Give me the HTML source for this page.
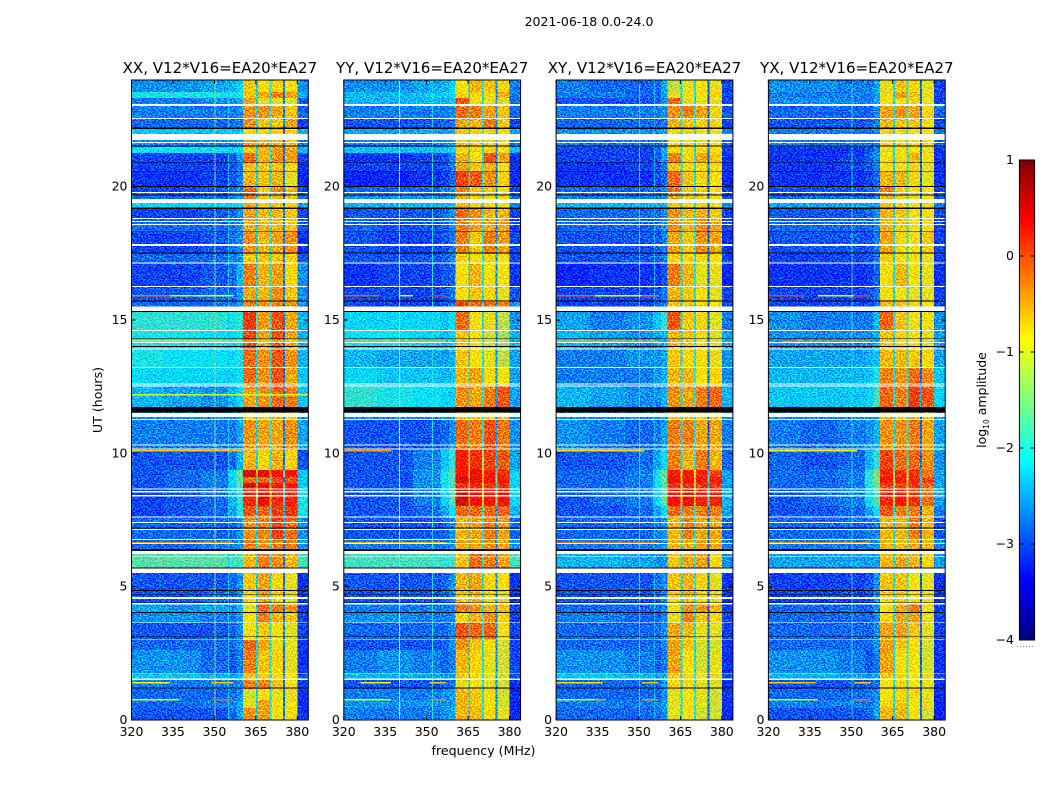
<!DOCTYPE html>
<html lang="en">
<head>
<meta charset="utf-8">
<title>2021-06-18 amplitude waterfall</title>
<style>
html,body{margin:0;padding:0;background:#fff;width:1050px;height:800px;overflow:hidden}
svg{display:block}
text{font-family:"DejaVu Sans","Liberation Sans",sans-serif;fill:#000}
</style>
</head>
<body>
<svg id="figure" xmlns="http://www.w3.org/2000/svg" width="1050" height="800" viewBox="0 0 1050 800">
  <defs>
    <linearGradient id="jet-gradient" x1="0" y1="0" x2="0" y2="1"></linearGradient>
    <filter id="speckle" x="0" y="0" width="100%" height="100%" color-interpolation-filters="sRGB">
      <feTurbulence type="fractalNoise" baseFrequency="0.62 0.78" numOctaves="1" seed="7" result="noise"/>
      <feColorMatrix in="noise" type="matrix" values="0 0 0 0 0.5  4 0 0 0 -1.6  0 0 0 0 0.5  0 0 0 0 1" result="greenNoise"/>
      <feComposite in="SourceGraphic" in2="greenNoise" operator="arithmetic" k1="0" k2="1" k3="0.7" k4="-0.35"/>
    </filter>
  </defs>
  <text x="589" y="26" font-size="12.5" text-anchor="middle">2021-06-18 0.0-24.0</text>
  <text x="483.5" y="755" font-size="12.6" text-anchor="middle">frequency (MHz)</text>
  <text transform="translate(102,400) rotate(-90)" font-size="12.6" text-anchor="middle">UT (hours)</text>
  <text transform="translate(986,400) rotate(-90)" font-size="12.5" text-anchor="middle">log<tspan font-size="7.5" dy="3">10</tspan><tspan dy="-3"> amplitude</tspan></text>
  <g id="panels"></g>
  <g id="colorbar"></g>
</svg>
<script>
// Time bands (UT hours, top to bottom) and frequency groups (MHz).
var hourEdges = [24,23.55,23.33,23.03,22.54,22.16,21.75,21.49,21.26,20.89,20.55,19.99,19.76,19.39,19.16,18.79,18.30,17.48,17.10,16.24,15.68,15.30,14.59,13.91,13.20,12.53,11.55,11.29,10.13,9.38,9.11,8.89,8.63,8.03,7.58,6.75,6.34,5.51,4.84,4.35,4.01,3.64,3.00,2.63,1.73,1.50,1.16,0.75,0.45,0];
var channelEdges = [320,332,345,355,358,360.4,365.05,365.75,370,370.7,374.85,375.55,380,384];
// Which frequency group uses which level column (-1..-3 = gap channel).
var channelColumns = [0,1,2,3,4,5,-1,6,-2,7,-3,8,9];

var panelTitles = ["XX, V12*V16=EA20*EA27","YY, V12*V16=EA20*EA27","XY, V12*V16=EA20*EA27","YX, V12*V16=EA20*EA27"];
var freqTicks = [320,335,350,365,380];
var hourTicks = [0,5,10,15,20];
var colorTicks = [1,0,-1,-2,-3,-4];

// log10 amplitude per time band: 320-332, 332-345, 345-355, 355-358, 358-360, block A, B, C, D, 380-384
var xxLevels = [
[-2.6,-2.6,-2.5,-2.4,-2.2,-0.7,-0.9,-0.8,-0.9,-2.6],
[-2.0,-2.0,-2.0,-2.0,-2.0,-0.7,-0.5,-0.3,-0.5,-2.4],
[-2.7,-2.7,-2.6,-2.6,-2.4,-0.5,-1.0,-1.0,-1.0,-2.9],
[-2.7,-2.7,-2.7,-2.7,-2.6,-0.4,-0.4,-0.5,-0.7,-2.8],
[-2.8,-2.8,-2.8,-2.8,-2.7,-0.4,-0.7,-0.7,-0.5,-3.0],
[-2.3,-2.3,-2.3,-2.3,-2.3,-0.8,-0.8,-0.8,-0.8,-2.4],
[-2.6,-2.6,-2.6,-2.6,-2.5,-0.5,-0.5,-0.6,-0.7,-2.7],
[-2.1,-2.1,-2.1,-2.2,-2.1,-0.7,-0.6,-0.5,-0.5,-2.4],
[-3.0,-3.0,-3.0,-2.9,-2.5,-0.2,-0.6,-0.4,-0.5,-3.0],
[-3.0,-3.0,-3.0,-2.9,-2.7,-0.7,-0.7,-0.7,-0.8,-3.1],
[-3.1,-3.1,-3.0,-2.9,-2.7,-0.6,-0.7,-0.6,-1.0,-3.2],
[-3.0,-3.0,-2.9,-2.8,-2.6,-0.2,-0.7,-0.4,-0.6,-3.0],
[-2.8,-2.8,-2.8,-2.7,-2.5,-0.3,-0.7,-0.6,-0.7,-2.8],
[-2.2,-2.2,-2.2,-2.2,-2.2,-0.5,-0.7,-0.7,-0.8,-2.5],
[-3.0,-3.0,-2.9,-2.8,-2.6,-0.5,-0.6,-0.6,-0.7,-3.0],
[-2.8,-2.8,-2.8,-2.7,-2.6,-0.5,-0.6,-0.6,-0.7,-2.9],
[-3.0,-3.0,-2.9,-2.8,-2.6,-0.4,-0.6,-0.5,-0.4,-3.1],
[-2.8,-2.8,-2.8,-2.7,-2.6,-0.7,-0.7,-0.7,-0.8,-2.9],
[-3.0,-3.0,-2.9,-2.8,-2.4,-0.3,-0.6,-0.5,-0.8,-2.6],
[-2.9,-2.9,-2.8,-2.8,-2.5,-0.5,-0.6,-0.4,-0.7,-2.6],
[-2.8,-2.8,-2.8,-2.7,-2.5,-0.3,-0.4,-0.3,-0.4,-2.6],
[-1.9,-1.9,-1.9,-2.0,-1.9,0.05,-0.45,-0.1,-0.5,-2.4],
[-2.0,-2.0,-2.1,-2.2,-2.0,0.0,-0.5,-0.1,-0.5,-2.4],
[-2.0,-2.1,-2.1,-2.1,-2.0,-0.2,-0.4,-0.1,-0.4,-2.4],
[-2.2,-2.2,-2.2,-2.2,-2.1,-0.2,-0.4,-0.1,-0.5,-2.3],
[-2.4,-2.5,-2.6,-2.4,-2.1,-0.5,-0.4,-0.2,-0.3,-2.3],
[-2.6,-2.6,-2.6,-2.6,-2.5,-0.7,-0.7,-0.6,-0.7,-2.6],
[-2.7,-2.7,-2.7,-2.7,-2.5,-0.4,-0.5,-0.5,-0.4,-2.5],
[-2.9,-2.9,-2.9,-2.8,-2.4,-0.6,-0.8,-0.6,-0.8,-2.9],
[-2.9,-2.8,-2.7,-2.1,-1.6,0.6,0.55,0.4,0.35,-2.3],
[-2.9,-2.8,-2.7,-2.2,-1.7,-0.2,-0.2,-0.1,-0.1,-2.3],
[-2.9,-2.8,-2.7,-2.2,-1.7,0.6,0.5,0.35,0.3,-2.3],
[-3.0,-2.9,-2.8,-2.4,-1.9,0.2,0.5,0.2,0.25,-2.0],
[-3.0,-2.9,-2.8,-2.5,-2.0,-0.1,-0.2,0.0,0.1,-2.0],
[-2.8,-2.8,-2.8,-2.8,-2.6,-0.4,-0.3,0.0,-0.2,-2.6],
[-2.8,-2.8,-2.7,-2.7,-2.6,-0.3,-0.4,-0.3,-0.3,-2.6],
[-1.7,-1.7,-1.7,-1.8,-1.8,-0.6,-0.3,-0.4,-0.6,-1.8],
[-2.9,-2.9,-2.9,-2.8,-2.6,-0.7,-0.5,-0.8,-1.0,-3.1],
[-2.9,-2.9,-2.8,-2.8,-2.6,-0.8,-0.5,-0.8,-1.0,-3.1],
[-2.5,-2.6,-2.5,-2.6,-2.4,-1.0,-0.2,-0.3,-0.4,-3.0],
[-2.6,-2.6,-2.7,-2.7,-2.5,-0.9,-0.3,-0.6,-0.7,-3.0],
[-2.9,-2.9,-2.9,-2.8,-2.6,-0.9,-0.7,-0.9,-1.0,-3.0],
[-2.8,-2.8,-2.8,-2.8,-2.6,-0.2,-0.5,-1.0,-1.0,-3.1],
[-2.6,-2.6,-2.8,-2.9,-2.7,-0.3,-0.7,-0.8,-1.0,-3.1],
[-2.3,-2.3,-2.4,-2.5,-2.4,-0.7,-0.7,-0.8,-0.9,-2.9],
[-2.7,-2.7,-2.7,-2.7,-2.6,-0.3,-0.3,-0.7,-0.9,-3.0],
[-2.8,-2.8,-2.8,-2.8,-2.6,-1.1,-0.9,-1.0,-1.0,-3.1],
[-2.8,-2.8,-2.7,-2.6,-2.5,-1.0,-0.5,-0.9,-0.9,-3.1],
[-2.9,-2.9,-2.9,-2.8,-2.5,-0.4,-0.45,-0.9,-0.9,-3.1]
];
var yyLevels = [
[-2.6,-2.6,-2.5,-2.4,-2.2,-0.9,-0.6,-0.7,-0.8,-2.7],
[-2.4,-2.4,-2.3,-2.3,-2.1,-0.8,-0.8,-0.9,-0.6,-2.7],
[-2.4,-2.4,-2.4,-2.4,-2.3,-0.1,-0.9,-1.0,-1.0,-2.8],
[-2.7,-2.7,-2.7,-2.7,-2.6,-0.2,-0.3,-0.5,-0.7,-2.8],
[-2.9,-2.9,-2.9,-2.8,-2.7,-0.5,-0.6,-0.3,-0.7,-3.0],
[-2.5,-2.5,-2.5,-2.5,-2.4,-0.7,-0.8,-0.8,-0.8,-2.5],
[-2.7,-2.7,-2.7,-2.6,-2.5,-0.7,-0.8,-0.8,-0.9,-2.7],
[-2.3,-2.3,-2.3,-2.3,-2.2,-0.8,-0.8,-0.8,-0.9,-2.4],
[-3.1,-3.1,-3.0,-2.9,-2.6,-0.6,-0.9,-0.1,-0.5,-3.1],
[-3.0,-3.0,-3.0,-2.9,-2.7,-0.5,-0.7,-0.6,-0.9,-3.1],
[-3.2,-3.2,-3.1,-3.0,-2.8,0.0,-0.1,-0.4,-0.8,-3.2],
[-2.8,-2.8,-2.8,-2.7,-2.6,-0.3,-0.7,-0.7,-0.9,-3.0],
[-2.6,-2.6,-2.6,-2.6,-2.5,-0.6,-0.8,-0.9,-0.9,-2.8],
[-2.4,-2.4,-2.4,-2.4,-2.3,-0.7,-0.8,-0.9,-0.9,-2.6],
[-2.9,-2.9,-2.9,-2.8,-2.6,-0.2,-0.4,-0.6,-0.6,-3.0],
[-2.8,-2.9,-2.9,-2.8,-2.6,-0.3,-0.5,-0.5,-0.5,-3.0],
[-2.9,-3.0,-3.0,-2.9,-2.7,-0.3,-0.7,-0.3,-0.5,-3.0],
[-2.9,-2.9,-2.9,-2.8,-2.7,-0.8,-0.9,-0.8,-0.9,-3.0],
[-3.1,-3.0,-3.0,-2.9,-2.8,-0.9,-0.6,-0.9,-0.9,-3.1],
[-3.0,-3.0,-3.0,-2.9,-2.7,-0.9,-0.7,-0.8,-1.0,-2.9],
[-3.0,-3.0,-3.0,-2.9,-2.7,0.0,-0.2,-0.2,-0.3,-2.6],
[-2.2,-2.2,-2.2,-2.3,-2.1,-0.2,-0.9,-1.0,-1.2,-2.6],
[-2.1,-2.1,-2.2,-2.3,-2.2,-0.7,-0.9,-1.1,-1.3,-2.4],
[-2.4,-2.5,-2.5,-2.5,-2.4,-0.7,-0.9,-1.0,-1.2,-2.5],
[-2.2,-2.3,-2.3,-2.4,-2.3,-0.6,-0.5,-0.8,-0.9,-2.5],
[-1.9,-2.0,-2.1,-2.2,-2.2,-0.4,-0.5,-0.3,-0.1,-2.5],
[-2.6,-2.6,-2.6,-2.6,-2.5,-0.7,-0.7,-0.7,-0.7,-2.6],
[-2.9,-2.9,-2.9,-2.8,-2.6,-0.2,-0.3,-0.1,-0.3,-2.6],
[-2.9,-2.9,-2.7,-2.3,-1.9,0.3,0.15,0.0,-0.1,-2.5],
[-2.9,-2.9,-2.6,-2.0,-1.7,0.3,0.45,0.3,0.15,-2.2],
[-2.9,-2.9,-2.6,-2.0,-1.7,0.55,0.5,0.35,0.3,-2.2],
[-2.9,-2.9,-2.6,-2.1,-1.7,0.1,0.2,0.1,0.1,-2.2],
[-2.9,-2.9,-2.7,-2.2,-1.7,0.6,0.45,0.35,0.4,-2.2],
[-2.9,-2.9,-2.8,-2.5,-2.1,-0.2,-0.2,-0.2,-0.2,-2.4],
[-2.9,-2.9,-2.9,-2.8,-2.6,-0.6,-0.5,-0.3,-0.5,-2.8],
[-2.7,-2.7,-2.7,-2.7,-2.6,-0.5,-0.5,-0.4,-0.5,-2.6],
[-1.8,-1.8,-1.8,-1.9,-1.8,-0.7,-0.2,-0.3,-0.5,-1.8],
[-2.9,-2.9,-2.9,-2.8,-2.6,-0.6,-0.5,-0.8,-0.9,-3.1],
[-2.9,-2.9,-2.9,-2.8,-2.6,-0.7,-0.6,-0.8,-1.0,-3.1],
[-2.7,-2.7,-2.7,-2.7,-2.6,-0.3,-0.4,-0.6,-0.7,-3.0],
[-2.6,-2.6,-2.7,-2.7,-2.6,-0.8,-0.6,-0.4,-0.8,-3.0],
[-2.8,-2.8,-2.8,-2.8,-2.6,-0.1,-0.2,-0.2,-0.9,-3.0],
[-2.9,-2.9,-2.9,-2.8,-2.6,-0.4,-0.7,-0.9,-1.1,-3.0],
[-2.7,-2.6,-2.7,-2.8,-2.7,-0.6,-0.8,-1.0,-1.1,-3.0],
[-2.4,-2.4,-2.5,-2.6,-2.5,-0.7,-0.8,-1.0,-1.1,-2.9],
[-2.9,-2.9,-2.9,-2.8,-2.7,-1.0,-0.9,-1.0,-1.1,-3.1],
[-2.7,-2.7,-2.7,-2.6,-2.5,-0.6,-0.7,-0.9,-1.1,-3.2],
[-2.6,-2.6,-2.6,-2.6,-2.5,-0.6,-0.7,-0.9,-1.1,-3.2],
[-2.7,-2.7,-2.7,-2.6,-2.5,-0.6,-0.6,-0.8,-1.0,-3.2]
];
var xyLevels = [
[-2.7,-2.8,-2.8,-2.8,-2.5,-1.2,-1.0,-0.9,-1.0,-3.0],
[-2.7,-2.7,-2.8,-2.8,-2.5,-1.0,-0.9,-0.9,-0.8,-3.0],
[-2.9,-2.9,-2.9,-2.8,-2.6,-0.2,-1.0,-1.0,-1.0,-3.0],
[-2.7,-2.7,-2.7,-2.7,-2.6,-0.4,-0.3,-0.5,-0.8,-2.9],
[-2.8,-2.8,-2.8,-2.8,-2.7,-0.6,-0.7,-0.8,-0.8,-3.0],
[-2.6,-2.6,-2.6,-2.6,-2.5,-0.8,-0.8,-0.9,-0.9,-2.7],
[-2.7,-2.7,-2.7,-2.7,-2.6,-0.8,-0.8,-0.8,-0.9,-2.8],
[-3.0,-3.0,-3.0,-2.8,-2.5,-0.8,-0.9,-0.9,-0.9,-3.0],
[-3.0,-3.0,-3.0,-2.9,-2.5,-0.3,-0.8,-0.5,-0.7,-3.1],
[-3.1,-3.1,-3.0,-2.9,-2.7,-0.7,-0.8,-0.8,-0.9,-3.1],
[-3.1,-3.1,-3.1,-3.0,-2.8,-0.2,-0.7,-0.8,-0.9,-3.2],
[-2.8,-2.8,-2.8,-2.8,-2.6,-0.2,-0.7,-0.7,-0.9,-3.0],
[-2.7,-2.7,-2.7,-2.7,-2.6,-0.5,-0.7,-0.8,-0.9,-2.9],
[-2.4,-2.4,-2.4,-2.4,-2.4,-0.7,-0.8,-0.8,-0.9,-2.6],
[-2.8,-2.8,-2.8,-2.8,-2.6,-0.4,-0.6,-0.6,-0.7,-3.0],
[-2.8,-2.8,-2.8,-2.8,-2.6,-0.4,-0.6,-0.4,-0.5,-3.0],
[-2.9,-2.9,-2.9,-2.9,-2.7,-0.5,-0.7,-0.4,-0.5,-3.1],
[-2.9,-2.9,-2.9,-2.9,-2.7,-0.8,-0.8,-0.8,-0.9,-3.0],
[-3.2,-3.1,-3.1,-3.1,-2.9,-0.3,-0.6,-1.0,-1.0,-3.2],
[-3.0,-3.0,-3.0,-2.9,-2.7,-0.6,-0.7,-0.9,-1.0,-3.0],
[-3.0,-3.0,-3.0,-2.9,-2.7,-0.7,-0.7,-0.8,-0.9,-2.9],
[-2.5,-2.7,-2.6,-2.3,-1.9,-0.1,-0.7,-0.8,-1.0,-2.7],
[-2.4,-2.5,-2.6,-2.5,-2.4,-0.6,-0.7,-0.9,-1.0,-2.5],
[-2.7,-2.7,-2.6,-2.6,-2.5,-0.7,-0.8,-0.9,-1.0,-2.6],
[-2.7,-2.7,-2.7,-2.6,-2.4,-0.6,-0.6,-0.9,-0.8,-2.6],
[-2.4,-2.5,-2.6,-2.6,-2.4,-0.4,-0.5,-0.3,-0.2,-2.4],
[-2.6,-2.6,-2.6,-2.6,-2.5,-0.7,-0.7,-0.7,-0.7,-2.6],
[-2.6,-2.7,-2.8,-2.7,-2.5,-0.3,-0.3,-0.5,-0.5,-2.7],
[-2.9,-2.9,-2.8,-2.5,-2.1,-0.3,-0.6,-0.3,-0.6,-2.8],
[-2.8,-2.8,-2.7,-2.0,-1.6,0.3,0.3,0.2,0.0,-2.5],
[-2.8,-2.8,-2.7,-2.0,-1.6,0.45,0.4,0.3,0.3,-2.5],
[-2.8,-2.8,-2.7,-2.1,-1.7,0.1,0.1,0.05,0.05,-2.5],
[-2.9,-2.8,-2.7,-2.1,-1.6,0.4,0.5,0.3,0.3,-2.4],
[-2.9,-2.9,-2.8,-2.5,-2.1,-0.2,-0.3,-0.3,-0.3,-2.5],
[-2.8,-2.8,-2.8,-2.7,-2.6,-0.6,-0.3,-0.5,-0.5,-2.8],
[-2.7,-2.7,-2.7,-2.7,-2.6,-0.6,-0.5,-0.5,-0.5,-2.7],
[-2.4,-2.4,-2.5,-2.6,-2.6,-0.7,-0.5,-0.5,-0.8,-2.6],
[-2.9,-2.9,-2.9,-2.8,-2.6,-0.7,-0.6,-0.8,-1.0,-3.1],
[-2.9,-2.9,-2.9,-2.8,-2.6,-0.8,-0.6,-0.8,-1.0,-3.1],
[-2.8,-2.8,-2.8,-2.8,-2.6,-0.9,-0.4,-0.4,-0.6,-3.0],
[-2.7,-2.7,-2.8,-2.8,-2.6,-1.0,-0.3,-0.7,-0.8,-3.0],
[-2.8,-2.8,-2.8,-2.8,-2.6,-0.5,-0.6,-1.0,-1.0,-3.0],
[-2.8,-2.8,-2.8,-2.8,-2.6,-0.5,-0.7,-1.1,-1.1,-3.1],
[-2.6,-2.6,-2.7,-2.9,-2.7,-0.5,-0.9,-1.1,-1.0,-3.1],
[-2.3,-2.3,-2.4,-2.5,-2.5,-0.7,-0.8,-1.0,-1.0,-3.0],
[-2.8,-2.8,-2.8,-2.8,-2.6,-0.8,-0.8,-1.0,-1.0,-3.1],
[-2.8,-2.8,-2.8,-2.8,-2.6,-1.0,-0.9,-1.0,-1.1,-3.1],
[-2.7,-2.7,-2.7,-2.7,-2.5,-1.0,-0.9,-1.0,-1.1,-3.1],
[-2.8,-2.8,-2.8,-2.8,-2.6,-1.0,-0.9,-1.1,-1.1,-3.2]
];
var yxLevels = [
[-2.6,-2.6,-2.7,-2.7,-2.5,-1.0,-0.7,-0.8,-1.0,-3.0],
[-2.7,-2.7,-2.7,-2.7,-2.5,-1.0,-0.5,-0.7,-1.0,-3.0],
[-2.6,-2.6,-2.7,-2.7,-2.5,-0.9,-0.9,-0.8,-1.0,-3.0],
[-2.8,-2.8,-2.8,-2.8,-2.6,-0.5,-0.4,-0.5,-0.8,-2.8],
[-2.9,-2.9,-2.9,-2.8,-2.7,-0.6,-0.7,-0.7,-0.9,-3.0],
[-2.7,-2.7,-2.7,-2.7,-2.6,-0.8,-0.8,-0.9,-0.9,-2.8],
[-2.7,-2.7,-2.7,-2.7,-2.6,-0.8,-0.8,-0.9,-0.9,-2.8],
[-3.1,-3.1,-3.1,-2.9,-2.7,-1.0,-0.9,-0.9,-1.0,-3.1],
[-3.1,-3.1,-3.0,-2.8,-2.6,-0.9,-0.9,-0.6,-0.9,-3.1],
[-3.1,-3.1,-3.0,-2.9,-2.7,-0.9,-0.9,-0.8,-1.0,-3.1],
[-3.1,-3.1,-3.1,-3.0,-2.8,-0.6,-0.6,-0.8,-1.0,-3.1],
[-2.9,-2.9,-2.9,-2.8,-2.6,-0.3,-0.8,-0.8,-0.9,-3.0],
[-2.8,-2.8,-2.8,-2.8,-2.6,-0.6,-0.8,-0.9,-0.9,-2.9],
[-2.5,-2.5,-2.5,-2.5,-2.4,-0.7,-0.8,-0.9,-0.9,-2.7],
[-2.9,-2.9,-2.9,-2.8,-2.6,-0.6,-0.7,-0.9,-0.9,-3.0],
[-2.8,-2.8,-2.8,-2.8,-2.6,-0.6,-0.7,-0.9,-0.9,-3.0],
[-2.9,-2.9,-2.9,-2.9,-2.7,-0.5,-0.8,-0.9,-0.7,-3.0],
[-3.0,-3.0,-3.0,-2.9,-2.7,-0.8,-0.9,-0.9,-1.0,-3.0],
[-3.1,-3.1,-3.1,-3.0,-2.8,-0.9,-0.6,-0.9,-1.0,-3.1],
[-3.0,-3.0,-3.0,-2.9,-2.7,-0.9,-0.9,-1.0,-1.0,-3.0],
[-3.0,-3.0,-3.0,-2.9,-2.7,-0.6,-0.7,-0.8,-0.9,-2.9],
[-2.6,-2.7,-2.7,-2.7,-2.4,-0.2,-0.7,-0.9,-0.9,-2.6],
[-2.6,-2.6,-2.6,-2.6,-2.4,-0.7,-0.8,-0.9,-1.0,-2.5],
[-2.5,-2.5,-2.5,-2.4,-2.3,-0.6,-0.6,-0.7,-0.8,-2.5],
[-2.4,-2.4,-2.4,-2.3,-2.0,-0.3,-0.4,-0.2,-0.4,-2.3],
[-2.3,-2.3,-2.3,-2.2,-1.8,-0.2,-0.3,0.05,-0.1,-2.2],
[-2.6,-2.6,-2.6,-2.6,-2.5,-0.6,-0.7,-0.6,-0.7,-2.6],
[-2.7,-2.8,-2.7,-2.6,-2.4,-0.4,-0.4,-0.3,-0.5,-2.5],
[-2.8,-2.9,-2.8,-2.4,-1.9,0.0,-0.2,-0.2,-0.4,-2.6],
[-2.8,-2.8,-2.7,-1.9,-1.5,0.2,0.15,0.1,-0.3,-2.5],
[-2.8,-2.8,-2.7,-1.9,-1.5,0.35,0.25,0.2,0.0,-2.5],
[-2.8,-2.8,-2.7,-2.0,-1.6,0.0,0.0,0.05,-0.2,-2.5],
[-2.9,-2.8,-2.7,-2.1,-1.7,0.2,0.3,0.15,-0.2,-2.5],
[-2.9,-2.9,-2.8,-2.5,-2.1,-0.1,-0.3,-0.3,-0.6,-2.7],
[-2.8,-2.8,-2.8,-2.7,-2.6,-0.6,-0.6,-0.3,-0.6,-2.9],
[-2.7,-2.7,-2.7,-2.7,-2.6,-0.6,-0.6,-0.5,-0.6,-2.7],
[-2.5,-2.5,-2.5,-2.5,-2.5,-0.6,-0.5,-0.6,-0.8,-2.5],
[-3.0,-3.0,-3.0,-2.9,-2.6,-0.7,-0.7,-0.9,-1.0,-3.1],
[-3.0,-3.0,-3.0,-2.9,-2.6,-0.8,-0.7,-0.9,-1.0,-3.1],
[-2.8,-2.8,-2.8,-2.8,-2.6,-0.9,-0.5,-0.3,-0.9,-3.0],
[-2.8,-2.8,-2.8,-2.8,-2.6,-0.8,-0.5,-0.5,-1.0,-3.0],
[-2.8,-2.8,-2.8,-2.8,-2.6,-0.5,-0.5,-0.7,-1.0,-3.0],
[-2.8,-2.8,-2.8,-2.8,-2.6,-0.5,-0.7,-0.9,-1.1,-3.1],
[-2.6,-2.6,-2.7,-2.9,-2.7,-0.5,-0.9,-0.9,-1.1,-3.1],
[-2.4,-2.4,-2.5,-2.6,-2.5,-0.7,-0.8,-0.9,-1.0,-3.0],
[-2.9,-2.9,-2.9,-2.8,-2.7,-0.9,-0.8,-0.9,-1.0,-3.1],
[-2.8,-2.8,-2.8,-2.7,-2.6,-0.9,-0.8,-0.8,-1.0,-3.2],
[-2.7,-2.7,-2.7,-2.7,-2.5,-0.8,-0.7,-0.9,-1.0,-3.2],
[-2.9,-2.9,-2.9,-2.8,-2.5,-0.6,-0.6,-0.9,-1.1,-3.2]
];
var panelLevels = [xxLevels,yyLevels,xyLevels,yxLevels];

// Gap-channel base levels per panel (365, 370, 375 MHz notches).
var xxGapLevels = [-2.2,-2.0,-2.7];
var yyGapLevels = [-2.2,-2.0,-2.6];
var xyGapLevels = [-2.1,-2.0,-2.8];
var yxGapLevels = [-2.1,-1.9,-2.8];
var panelGaps = [xxGapLevels,yyGapLevels,xyGapLevels,yxGapLevels];

// Narrow persistent RFI channels: frequency, level.
var xxSpurFreqs = [350,355];
var xxSpurLevels = [-1.5,-2.3];
var yySpurFreqs = [340,352];
var yySpurLevels = [-0.9,-2.0];
var xySpurFreqs = [350,355.5];
var xySpurLevels = [-2.0,-2.4];
var yxSpurFreqs = [350];
var yxSpurLevels = [-2.0];
var panelSpurFreqs = [xxSpurFreqs,yySpurFreqs,xySpurFreqs,yxSpurFreqs];
var panelSpurLevels = [xxSpurLevels,yySpurLevels,xySpurLevels,yxSpurLevels];

// Short-lived RFI rows: hour, start MHz, end MHz, level.
var xxRfi = [[15.91,320,334,-0.2],[15.91,334,357,-1.0],[14.21,320,384,-1.0],[12.19,320,384,-1.1],[10.09,320,360,-0.6],[6.64,320,357,-0.3],[1.39,320,334,-0.8],[1.39,349,357,-0.6],[0.75,320,337,-1.0],[0.75,349,357,-0.1]];
var yyRfi = [[15.91,320,333,-0.1],[15.91,340,345,-1.0],[15.91,351,357,0.15],[14.21,320,357,-0.6],[10.09,320,337,-0.4],[6.64,320,357,-0.5],[1.39,326,337,-0.8],[1.39,351,357,-0.6],[0.75,320,337,-1.1],[0.75,351,357,-0.3]];
var xyRfi = [[15.91,320,334,-0.1],[15.91,334,351,-0.9],[15.91,351,357,-0.2],[14.21,320,357,-0.7],[10.09,320,352,-0.7],[6.64,320,357,-0.1],[1.39,320,337,-0.7],[1.39,351,357,-0.6],[0.75,320,334,-1.2],[0.75,334,338,-0.4],[0.75,351,357,-0.3]];
var yxRfi = [[15.91,320,333,0.05],[15.91,338,351,-1.0],[15.91,351,357,0.1],[14.21,325,357,-0.5],[10.09,320,352,-0.8],[6.64,320,357,-0.3],[1.39,320,337,-0.6],[1.39,351,357,-0.6],[0.75,320,334,-1.2],[0.75,334,338,-0.7],[0.75,351,357,-0.2]];
var panelRfi = [xxRfi,yyRfi,xyRfi,yxRfi];

// Flagged time ranges (hours): blank (white) and zero-amplitude (black).
var whiteBands = [[23.03,23.10],[22.54,22.58],[21.75,21.98],[21.64,21.68],[19.76,19.80],[19.39,19.54],[18.79,18.83],[18.68,18.71],[18.56,18.60],[17.78,17.85],[17.12,17.16],[16.24,16.28],[15.31,15.50],[14.59,14.63],[14.14,14.18],[13.89,13.93],[13.20,13.24],[12.58,12.62],[12.51,12.55],[11.37,11.52],[11.25,11.29],[10.29,10.33],[10.14,10.18],[8.64,8.68],[8.54,8.58],[8.39,8.43],[7.59,7.63],[7.39,7.43],[7.12,7.16],[6.75,6.78],[6.60,6.63],[6.23,6.34],[6.11,6.14],[5.51,5.69],[4.54,4.61],[4.34,4.38],[3.65,3.68],[3.01,3.04],[1.74,1.77],[1.50,1.56]];
var blackBands = [[22.17,22.21],[21.51,21.54],[20.90,20.93],[20.56,20.59],[19.99,20.03],[19.67,19.70],[19.16,19.22],[18.31,18.34],[17.50,17.53],[15.70,15.73],[15.30,15.33],[14.30,14.33],[13.99,14.02],[11.54,11.73],[7.18,7.22],[6.34,6.41],[5.68,5.71],[4.84,4.87],[4.70,4.73],[4.38,4.41],[4.02,4.05],[3.11,3.14],[1.18,1.21]];

var SVGNS = "http://www.w3.org/2000/svg";
var figLeft = 131.5, panelStep = 212.3, panelWidth = 176.8, plotTop = 80, plotBottom = 720;
var levelMin = -4, levelMax = 1, freqMin = 320, freqMax = 384, hourMax = 24;

function clip(v){ return Math.max(0, Math.min(1, v)); }
function jetColor(level){
  var v = clip((level - levelMin) / (levelMax - levelMin));
  var r = clip(Math.min(4*v - 1.5, -4*v + 4.5));
  var g = clip(Math.min(4*v - 0.5, -4*v + 3.5));
  var b = clip(Math.min(4*v + 0.5, -4*v + 2.5));
  return "rgb(" + Math.round(r*255) + "," + Math.round(g*255) + "," + Math.round(b*255) + ")";
}
function xScale(panelIndex, freq){
  return figLeft + panelIndex*panelStep + (freq - freqMin) / (freqMax - freqMin) * panelWidth;
}
function yScale(hour){
  return plotBottom - hour / hourMax * (plotBottom - plotTop);
}
function colorScale(level){
  return 640 - (level - levelMin) / (levelMax - levelMin) * 480;
}
function make(tag, attrs, parent){
  var el = document.createElementNS(SVGNS, tag);
  for (var k in attrs) el.setAttribute(k, attrs[k]);
  parent.appendChild(el);
  return el;
}
function fillRect(parent, panelIndex, f0, f1, h0, h1, fill){
  var top = yScale(h0), bottom = yScale(h1);
  var left = xScale(panelIndex, f0), right = xScale(panelIndex, f1);
  return make("rect", {x:left, y:top, width:right-left, height:bottom-top, fill:fill, "shape-rendering":"crispEdges"}, parent);
}

var panelsRoot = document.getElementById("panels");
panelTitles.forEach(function(title, p){
  var g = make("g", {}, panelsRoot);
  
  
  var levels = panelLevels[p];

  // Decorative speckle texture applies to this group only; every cell colour comes from the arrays.
  var heat = make("g", {filter:"url(#speckle)"}, g);
  
  

  // heatmap cells
  for (var b = 0; b < hourEdges.length - 1; b++){
    for (var c = 0; c < channelColumns.length; c++){
      var col = channelColumns[c], level;
      if (col >= 0) {
        level = levels[b][col];
      } else {
        var blockBefore = levels[b][channelColumns[c-1]];
        level = panelGaps[p][-col-1] + 2.5*Math.max(0, blockBefore + 0.1);
      }
      var cell = fillRect(heat, p, channelEdges[c], channelEdges[c+1], hourEdges[b], hourEdges[b+1], jetColor(level));
      
      
    }
  }
  // persistent RFI channels
  panelSpurFreqs[p].forEach(function(freq, i){
    var spur = fillRect(heat, p, freq, freq + 0.36, hourMax, 0, jetColor(panelSpurLevels[p][i]));
    
    
  });
  // short RFI rows
  panelRfi[p].forEach(function(row){
    var line = fillRect(g, p, row[1], row[2], row[0] + 0.03, row[0] - 0.02, jetColor(row[3]));
    
    
  });
  // flagged ranges
  whiteBands.forEach(function(band){
    var flag = fillRect(g, p, freqMin, freqMax, band[1], band[0], "#fff");
    
    
  });
  blackBands.forEach(function(band){
    var zero = fillRect(g, p, freqMin, freqMax, band[1], band[0], "#000");
    
    
  });

  // frame
  var x0 = xScale(p, freqMin), x1 = xScale(p, freqMax);
  var frame = make("rect", {x:x0, y:plotTop, width:x1-x0, height:plotBottom-plotTop, fill:"none", stroke:"#000", "stroke-width":1}, g);
  
  

  // title
  var t = make("text", {x:(x0+x1)/2, y:73, "font-size":15.05, "text-anchor":"middle"}, g);
  t.textContent = title;
  
  

  // x ticks
  freqTicks.forEach(function(freq){
    var x = xScale(p, freq);
    var tb = make("line", {x1:x, x2:x, y1:plotBottom, y2:plotBottom-4, stroke:"#000", "stroke-width":1}, g);
    
    
    var tt = make("line", {x1:x, x2:x, y1:plotTop, y2:plotTop+4, stroke:"#000", "stroke-width":1}, g);
    
    
    var lab = make("text", {x:x, y:736, "font-size":12.5, "text-anchor":"middle"}, g);
    lab.textContent = String(freq);
    
    
  });
  // y ticks
  hourTicks.forEach(function(hour){
    var y = yScale(hour);
    var tl = make("line", {x1:x0, x2:x0+4, y1:y, y2:y, stroke:"#000", "stroke-width":1}, g);
    
    
    var tr = make("line", {x1:x1, x2:x1-4, y1:y, y2:y, stroke:"#000", "stroke-width":1}, g);
    
    
    var lab = make("text", {x:x0-4, y:y+4, "font-size":12.5, "text-anchor":"end"}, g);
    lab.textContent = String(hour);
    
    
  });
});

// colorbar
var cb = document.getElementById("colorbar");
var grad = document.getElementById("jet-gradient");
for (var s = 0; s <= 64; s++){
  var frac = s / 64;
  make("stop", {offset:frac, "stop-color":jetColor(levelMax - frac*(levelMax-levelMin))}, grad);
}
var cbLeft = 1019.4, cbRight = 1034.6;
var cbRect = make("rect", {x:cbLeft, y:colorScale(levelMax), width:cbRight-cbLeft, height:colorScale(levelMin)-colorScale(levelMax), fill:"url(#jet-gradient)", stroke:"#000", "stroke-width":1}, cb);


colorTicks.forEach(function(level){
  var y = colorScale(level);
  var a = make("line", {x1:cbLeft, x2:cbLeft+4, y1:y, y2:y, stroke:"#000", "stroke-width":1}, cb);
  
  
  var d = make("line", {x1:cbRight, x2:cbRight-4, y1:y, y2:y, stroke:"#000", "stroke-width":1}, cb);
  
  
  var lab = make("text", {x:1014, y:y+4, "font-size":12.5, "text-anchor":"end"}, cb);
  lab.textContent = (level < 0 ? "\u2212" + Math.abs(level) : String(level));
  
  
});
var dots = make("line", {x1:1017, x2:1035, y1:646.5, y2:646.5, stroke:"#999", "stroke-width":1, "stroke-dasharray":"1 2"}, cb);


</script>
</body>
</html>
